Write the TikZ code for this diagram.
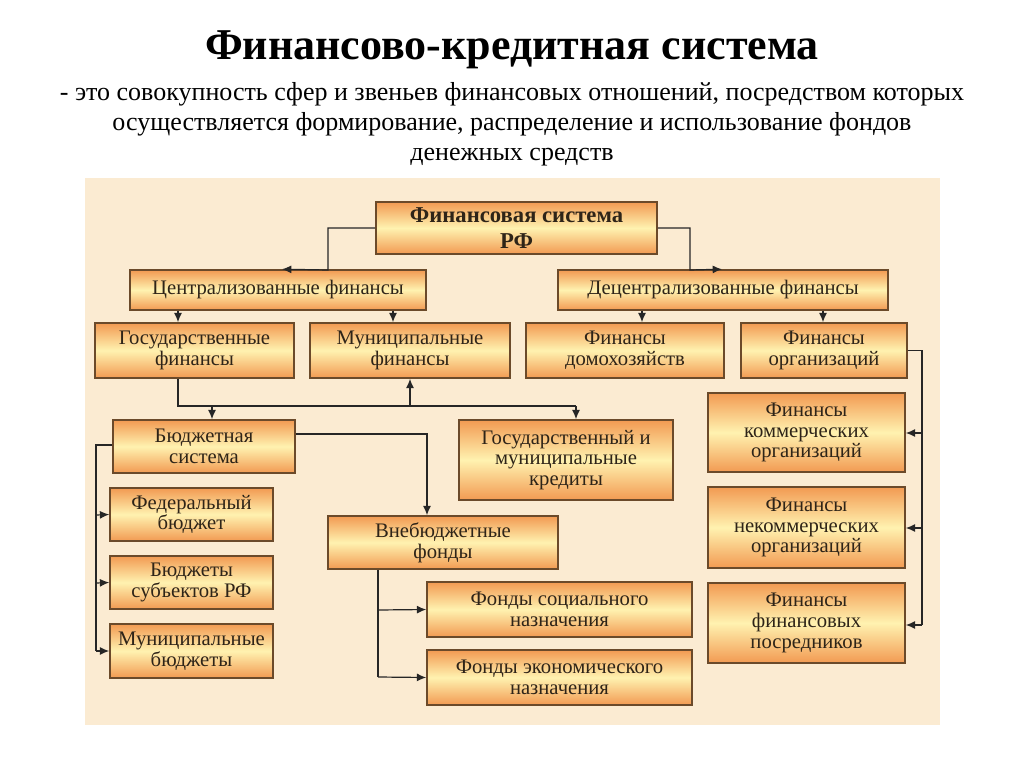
\documentclass[tikz,border=0pt]{standalone}
\usepackage{fontspec}
\setmainfont{Liberation Serif}
\usetikzlibrary{arrows.meta}
\definecolor{panel}{HTML}{FBEBD2}
\definecolor{bord}{HTML}{6B4A2A}
\definecolor{org1}{HTML}{F29A52}
\definecolor{yel}{HTML}{FFF2B0}
\definecolor{txt}{HTML}{2E2418}
\begin{document}
\begin{tikzpicture}[x=0.75pt,y=-0.75pt,
  box/.style={draw=bord,line width=1.2pt,top color=org1,bottom color=org1,middle color=yel,
    align=center,font=\fontsize{15.5}{15.5}\selectfont,text=txt,inner sep=1pt},
  bw/.style 2 args={minimum width=#1*0.75pt,minimum height=#2*0.75pt},
  ln/.style={draw=black!85,line width=0.9pt},
  arr/.style={ln,-{Latex[length=7pt,width=6pt]}}]
\useasboundingbox (0,0) rectangle (1024,767);
\fill[white] (0,0) rectangle (1024,767);
\fill[panel] (85,178) rectangle (940,725);
\node[font=\bfseries\fontsize{33}{36}\selectfont] (title) at (512,50) {Финансово-кредитная система};
\node[font=\fontsize{19.5}{22.5}\selectfont,align=center] (sub) at (512,124)
 {- это совокупность сфер и звеньев финансовых отношений, посредством которых\\
  осуществляется формирование, распределение и использование фондов\\
  денежных средств};
\node[box,bw={281}{52},font=\bfseries\fontsize{17}{19}\selectfont] (top) at (516.5,228) {Финансовая система\\РФ};
\node[box,bw={296}{40}] (central) at (278,290) {Централизованные финансы};
\node[box,bw={330}{40}] (decentral) at (723,290) {Децентрализованные финансы};
\node[box,bw={199}{55}] (gos) at (194.5,350.5) {Государственные\\финансы};
\node[box,bw={200}{55}] (mun) at (410,350.5) {Муниципальные\\финансы};
\node[box,bw={198}{55}] (domoh) at (625,350.5) {Финансы\\домохозяйств};
\node[box,bw={166}{55}] (org) at (824,350.5) {Финансы\\организаций};
\node[box,bw={182}{53}] (budget) at (204,446.5) {Бюджетная\\система};
\node[box,bw={214}{80}] (credits) at (566,460) {Государственный и\\муниципальные\\кредиты};
\node[box,bw={197}{79}] (komm) at (806.5,432.5) {Финансы\\коммерческих\\организаций};
\node[box,bw={163}{53}] (fed) at (191.5,514.5) {Федеральный\\бюджет};
\node[box,bw={230}{53}] (vneb) at (443,542.5) {Внебюджетные\\фонды};
\node[box,bw={197}{81}] (nekomm) at (806.5,527.5) {Финансы\\некоммерческих\\организаций};
\node[box,bw={163}{53}] (subj) at (191.5,582.5) {Бюджеты\\субъектов РФ};
\node[box,bw={265}{55}] (soc) at (559.5,609.5) {Фонды социального\\назначения};
\node[box,bw={197}{80}] (fposr) at (806.5,623) {Финансы\\финансовых\\посредников};
\node[box,bw={163}{54}] (munb) at (191.5,651) {Муниципальные\\бюджеты};
\node[box,bw={265}{55}] (econ) at (559.5,677.5) {Фонды экономического\\назначения};
% connectors
\coordinate (c1) at (328,270); \coordinate (c2) at (690,270);
\draw[arr] (top.west) -| (c1) -- (central.north -| 282,0);
\draw[arr] (top.east) -| (c2) -- (decentral.north -| 722,0);
\draw[arr] (central.south -| 178,0) -- (gos.north -| 178,0);
\draw[arr] (central.south -| 393,0) -- (mun.north -| 393,0);
\draw[arr] (decentral.south -| 642,0) -- (domoh.north -| 642,0);
\draw[arr] (decentral.south -| 823,0) -- (org.north -| 823,0);
\coordinate (j1) at (178,406); \coordinate (j2) at (410,406); \coordinate (j3) at (576,406);
\draw[ln] (gos.south -| j1) -- (j1) -- (j3);
\draw[arr] (j2) -- (mun.south -| j2);
\draw[arr] (212,406) -- (budget.north -| 212,0);
\draw[arr] (j3) -- (credits.north -| j3);
\coordinate (j4) at (427,434);
\draw[arr] (budget.east |- j4) -- (j4) -- (vneb.north -| j4);
\coordinate (j5) at (96,445); \coordinate (j6) at (96,651);
\draw[ln] (budget.west |- j5) -- (j5) -- (j6);
\draw[arr] (96,515) -- (fed.west);
\draw[arr] (96,583) -- (subj.west);
\draw[arr] (j6) -- (munb.west);
\coordinate (j7) at (378,677);
\draw[ln] (vneb.south -| j7) -- (j7);
\draw[arr] (378,610) -- (soc.west);
\draw[arr] (j7) -- (econ.west);
\coordinate (j8) at (922,350.5); \coordinate (j9) at (922,625);
\draw[ln] (org.east) -- (j8) -- (j9);
\draw[arr] (922,433) -- (komm.east |- 0,433);
\draw[arr] (922,528) -- (nekomm.east |- 0,528);
\draw[arr] (j9) -- (fposr.east |- j9);
\end{tikzpicture}
\end{document}
